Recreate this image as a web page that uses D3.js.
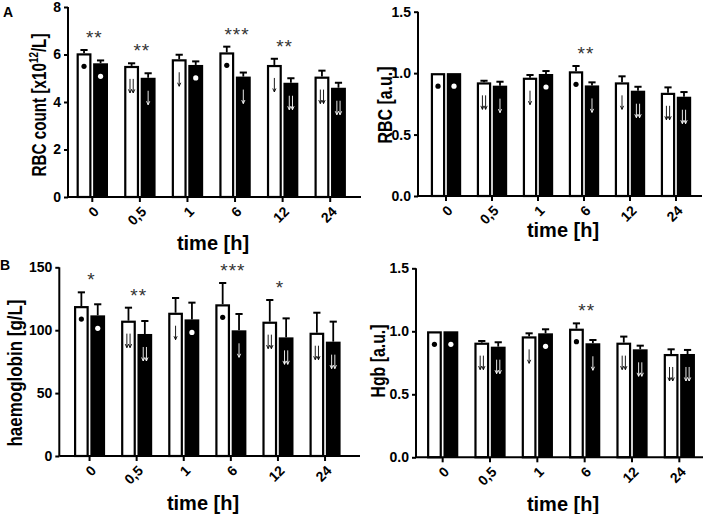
<!DOCTYPE html>
<html><head><meta charset="utf-8">
<script src="https://cdn.jsdelivr.net/npm/d3@7"></script>
<style>
body{margin:0;background:#fff}
svg{display:block}
text{font-family:"Liberation Sans",Arial,sans-serif}
</style>
</head><body>
<svg id="c" width="706" height="514"></svg>
<script>
// ---------- data ----------
const categories = ["0", "0,5", "1", "6", "12", "24"];

// RBC count [x10^12/L]
const rbcCountWhite   = [6.05, 5.52, 5.80, 6.09, 5.56, 5.07];
const rbcCountWhiteSD = [0.14, 0.11, 0.19, 0.24, 0.26, 0.25];
const rbcCountBlack   = [5.63, 5.02, 5.56, 5.07, 4.81, 4.60];
const rbcCountBlackSD = [0.12, 0.19, 0.15, 0.17, 0.19, 0.21];
const rbcCountStars   = ["**", "**", "", "***", "**", ""];
const rbcCountTicks   = [0, 2, 4, 6, 8];

// RBC [a.u.]
const rbcRelWhite   = [1.00, 0.925, 0.963, 1.015, 0.925, 0.840];
const rbcRelWhiteSD = [0, 0.013, 0.022, 0.043, 0.049, 0.044];
const rbcRelBlack   = [1.00, 0.898, 0.993, 0.900, 0.857, 0.808];
const rbcRelBlackSD = [0, 0.032, 0.024, 0.025, 0.032, 0.038];
const rbcRelStars   = ["", "", "", "**", "", ""];
const relTicks      = [0, 0.5, 1.0, 1.5];

// haemoglobin [g/L]
const hgbWhite   = [119.2, 107.6, 113.9, 120.6, 106.8, 98.0];
const hgbWhiteSD = [10.9, 10.3, 11.7, 16.9, 17.2, 15.9];
const hgbBlack   = [111.8, 97.0, 108.6, 99.9, 94.3, 90.9];
const hgbBlackSD = [8.8, 10.3, 13.3, 13.0, 15.1, 15.9];
const hgbStars   = ["*", "**", "", "***", "*", ""];
const hgbTicks   = [0, 50, 100, 150];

// Hgb [a.u.]
const hgbRelWhite   = [1.00, 0.910, 0.960, 1.021, 0.910, 0.820];
const hgbRelWhiteSD = [0, 0.013, 0.024, 0.042, 0.048, 0.037];
const hgbRelBlack   = [1.00, 0.878, 0.984, 0.905, 0.857, 0.820];
const hgbRelBlackSD = [0, 0.035, 0.032, 0.026, 0.029, 0.032];
const hgbRelStars   = ["", "", "", "**", "", ""];

// in-bar markers: d = dot, a1 = single arrow, a2 = double arrow
const rbcMarkWhite = ["d", "a2", "a1", "d", "a1", "a2"];
const rbcMarkBlack = ["d", "a1", "d", "a1", "a2", "a2"];
const hgbMarkWhite = ["d", "a2", "a1", "d", "a2", "a2"];
const hgbMarkBlack = ["d", "a2", "d", "a1", "a2", "a2"];

// ---------- drawing ----------
const svg = d3.select("#c");
const FONT = "Liberation Sans, Arial, sans-serif";

function panel(o) {
  const g = svg.append("g");
  const y = d3.scaleLinear().domain([0, o.ymax]).range([o.yb, o.yt]);
  const x = d3.scaleBand().domain(categories).range([o.x0, o.x1])
              .paddingInner(0.34).paddingOuter(0.17);
  const sub = d3.scaleBand().domain(["w", "b"]).range([0, x.bandwidth()]).paddingInner(0.1);

  const rows = categories.map((c, i) => ({
    c, i,
    w: o.white[i], wsd: o.whiteSD[i], wm: o.markW[i],
    b: o.black[i], bsd: o.blackSD[i], bm: o.markB[i],
    star: o.stars[i]
  }));

  const bw = sub.bandwidth();
  const grp = g.selectAll("g.cat").data(rows).join("g").attr("class", "cat")
    .attr("transform", d => `translate(${x(d.c)},0)`);

  function err(sel, key, sdKey, k) {
    sel.filter(d => d[sdKey] > 0).each(function(d) {
      const cx = sub(k) + bw / 2;
      const s = d3.select(this);
      s.append("line").attr("x1", cx).attr("x2", cx)
        .attr("y1", y(d[key])).attr("y2", y(d[key] + d[sdKey]))
        .attr("stroke", "#000").attr("stroke-width", 1.8);
      s.append("line").attr("x1", cx - 3.6).attr("x2", cx + 3.6)
        .attr("y1", y(d[key] + d[sdKey])).attr("y2", y(d[key] + d[sdKey]))
        .attr("stroke", "#000").attr("stroke-width", 2);
    });
  }
  err(grp, "w", "wsd", "w");
  err(grp, "b", "bsd", "b");

  grp.append("rect").attr("x", sub("w") + 1.1).attr("width", bw - 2.2)
    .attr("y", d => y(d.w) + 1.1).attr("height", d => y(0) - y(d.w) - 1.1)
    .attr("fill", "#fff").attr("stroke", "#000").attr("stroke-width", 2.2);
  grp.append("rect").attr("x", sub("b")).attr("width", bw)
    .attr("y", d => y(d.b)).attr("height", d => y(0) - y(d.b))
    .attr("fill", "#000");

  function marks(sel, key, mkey, k, col) {
    sel.each(function(d) {
      const s = d3.select(this);
      const cx = sub(k) + bw / 2;
      const top = y(d[key]);
      const m = d[mkey];
      if (m === "d") {
        s.append("circle").attr("cx", cx).attr("cy", top + 13).attr("r", 2.6).attr("fill", col);
      } else {
        const offs = m === "a1" ? [0] : [-1.6, 1.6];
        const y0 = top + 13, y1 = top + 27;
        offs.forEach(dx => {
          s.append("line").attr("x1", cx + dx).attr("x2", cx + dx)
            .attr("y1", y0).attr("y2", y1).attr("stroke", col).attr("stroke-width", 0.9);
          s.append("path").attr("d", `M${cx+dx-1.6},${y1-3.5}L${cx+dx},${y1}L${cx+dx+1.6},${y1-3.5}`)
            .attr("fill", "none").attr("stroke", col).attr("stroke-width", 0.9);
        });
      }
    });
  }
  marks(grp, "w", "wm", "w", "#000");
  marks(grp, "b", "bm", "b", "#fff");

  grp.filter(d => d.star).append("text")
    .attr("x", x.bandwidth() / 2 + 2)
    .attr("y", d => Math.min(y(d.w + d.wsd), y(d.b + d.bsd)) - 6)
    .attr("text-anchor", "middle")
    .attr("font-size", 19).attr("letter-spacing", 1)
    .attr("fill", "#333")
    .text(d => d.star);

  // y axis
  const ya = g.append("g").attr("transform", `translate(${o.ax},0)`)
    .call(d3.axisLeft(y).tickValues(o.ticks).tickSize(4).tickSizeOuter(0).tickPadding(3)
          .tickFormat(o.fmt));
  ya.select(".domain").attr("stroke-width", 2).attr("d", `M0,${o.yb}V${o.yt}`);
  ya.selectAll(".tick line").attr("stroke-width", 2);
  ya.selectAll("text").attr("font-size", 14).attr("font-weight", "bold")
    .attr("font-family", FONT).attr("fill", "#000");

  // x axis
  const xa = g.append("g").attr("transform", `translate(0,${o.yb})`)
    .call(d3.axisBottom(x).tickSize(5).tickSizeOuter(0).tickFormat(""));
  xa.select(".domain").remove();
  xa.selectAll(".tick text").remove();
  xa.append("line").attr("x1", o.ax).attr("x2", o.xend).attr("y1", 0).attr("y2", 0)
    .attr("stroke", "#000").attr("stroke-width", 2);
  xa.selectAll(".tick line").attr("stroke-width", 2);
  g.selectAll("text.xl").data(categories).join("text").attr("class", "xl")
    .attr("transform", d => `translate(${x(d) + x.bandwidth() / 2 + 4},${o.yb + 12}) rotate(-45)`)
    .attr("text-anchor", "end").attr("dy", "0.35em")
    .attr("font-size", 14).attr("font-weight", "bold").attr("font-family", FONT)
    .text(d => d);

  // titles
  g.append("text").attr("x", o.xtx).attr("y", o.xty).attr("text-anchor", "middle")
    .attr("font-size", 20).attr("font-weight", "bold").text("time [h]");
  const yt = g.append("text").attr("transform", `translate(${o.ytx},${o.yty}) rotate(-90)`)
    .attr("text-anchor", "middle").attr("font-size", 20).attr("font-weight", "bold")
    .attr("textLength", o.ylen).attr("lengthAdjust", "spacingAndGlyphs");
  o.ytitle(yt);
}

const fInt = d3.format("d"), f1 = d3.format(".1f");

panel({ ymax: 8, ticks: rbcCountTicks, fmt: fInt, yt: 7, yb: 197, ax: 68, x0: 68.5, x1: 354, xend: 361,
  white: rbcCountWhite, whiteSD: rbcCountWhiteSD, black: rbcCountBlack, blackSD: rbcCountBlackSD,
  markW: rbcMarkWhite, markB: rbcMarkBlack, stars: rbcCountStars,
  xtx: 213, xty: 250, ytx: 46, yty: 105, ylen: 143,
  ytitle: t => { t.append("tspan").text("RBC count [x10");
                 t.append("tspan").attr("font-size", 13).attr("dy", -8).text("12");
                 t.append("tspan").attr("dy", 8).text("/L]"); } });

panel({ ymax: 1.5, ticks: relTicks, fmt: f1, yt: 11.7, yb: 196, ax: 418, x0: 423, x1: 699, xend: 702,
  white: rbcRelWhite, whiteSD: rbcRelWhiteSD, black: rbcRelBlack, blackSD: rbcRelBlackSD,
  markW: rbcMarkWhite, markB: rbcMarkBlack, stars: rbcRelStars,
  xtx: 563, xty: 237, ytx: 392, yty: 105, ylen: 77,
  ytitle: t => t.text("RBC [a.u.]") });

panel({ ymax: 150, ticks: hgbTicks, fmt: fInt, yt: 267.3, yb: 456, ax: 59.3, x0: 66, x1: 348.6, xend: 360,
  white: hgbWhite, whiteSD: hgbWhiteSD, black: hgbBlack, blackSD: hgbBlackSD,
  markW: hgbMarkWhite, markB: hgbMarkBlack, stars: hgbStars,
  xtx: 203, xty: 510, ytx: 22, yty: 373, ylen: 147,
  ytitle: t => t.text("haemoglobin [g/L]") });

panel({ ymax: 1.5, ticks: relTicks, fmt: f1, yt: 268.3, yb: 457.3, ax: 416, x0: 419, x1: 703, xend: 703,
  white: hgbRelWhite, whiteSD: hgbRelWhiteSD, black: hgbRelBlack, blackSD: hgbRelBlackSD,
  markW: hgbMarkWhite, markB: hgbMarkBlack, stars: hgbRelStars,
  xtx: 563, xty: 511, ytx: 385, yty: 361, ylen: 73,
  ytitle: t => t.text("Hgb [a.u.]") });

svg.append("text").attr("x", 3).attr("y", 17).attr("font-size", 14).attr("font-weight", "bold").text("A");
svg.append("text").attr("x", 0).attr("y", 270).attr("font-size", 14).attr("font-weight", "bold").text("B");
</script>
</body></html>
